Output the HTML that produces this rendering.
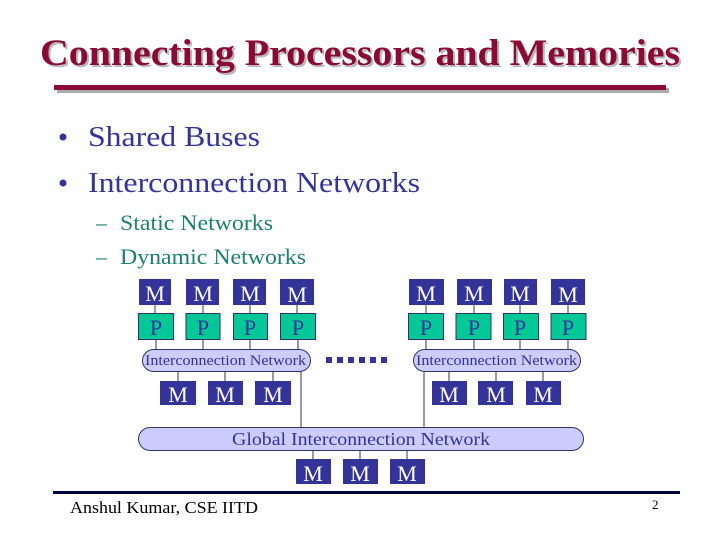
<!DOCTYPE html>
<html><head><meta charset="utf-8"><style>
html,body{margin:0;padding:0;background:#fff}
svg{display:block}
text{font-family:"Liberation Serif",serif}
</style></head><body>
<svg width="720" height="540" viewBox="0 0 720 540" xmlns="http://www.w3.org/2000/svg">
<!-- title -->
<text x="42" y="67" font-size="37" font-weight="bold" fill="#b8b8b8" textLength="640" lengthAdjust="spacingAndGlyphs">Connecting Processors and Memories</text>
<text x="40" y="65" font-size="37" font-weight="bold" fill="#8a0a36" textLength="640" lengthAdjust="spacingAndGlyphs">Connecting Processors and Memories</text>
<rect x="57" y="88" width="612" height="5" fill="#aaa"/>
<rect x="54" y="85" width="612" height="5" fill="#8a0a36"/>
<!-- bullets -->
<g fill="#333399" font-size="29">
<circle cx="63" cy="137" r="3.5"/><text x="88" y="146" textLength="172" lengthAdjust="spacingAndGlyphs">Shared Buses</text>
<circle cx="63" cy="183" r="3.5"/><text x="88" y="192" textLength="332" lengthAdjust="spacingAndGlyphs">Interconnection Networks</text>
</g>
<g fill="#1f7f70" font-size="22">
<text x="96" y="230">–</text><text x="120" y="230" textLength="153" lengthAdjust="spacingAndGlyphs">Static Networks</text>
<text x="96" y="264">–</text><text x="120" y="264" textLength="186" lengthAdjust="spacingAndGlyphs">Dynamic Networks</text>
</g>
<!-- connectors -->
<g stroke="#333366" stroke-width="1">
<line x1="155" y1="305" x2="155" y2="313"/><line x1="203" y1="305" x2="203" y2="313"/><line x1="250" y1="305" x2="250" y2="313"/><line x1="297" y1="305" x2="297" y2="313"/>
<line x1="426" y1="305" x2="426" y2="313"/><line x1="474" y1="305" x2="474" y2="313"/><line x1="520" y1="305" x2="520" y2="313"/><line x1="568" y1="305" x2="568" y2="313"/>
<line x1="156" y1="339" x2="156" y2="349"/><line x1="203" y1="339" x2="203" y2="349"/><line x1="250" y1="339" x2="250" y2="349"/><line x1="298" y1="339" x2="298" y2="349"/>
<line x1="426" y1="339" x2="426" y2="349"/><line x1="474" y1="339" x2="474" y2="349"/><line x1="520" y1="339" x2="520" y2="349"/><line x1="568" y1="339" x2="568" y2="349"/>
<line x1="178" y1="372" x2="178" y2="381"/><line x1="225" y1="372" x2="225" y2="381"/><line x1="273" y1="372" x2="273" y2="381"/>
<line x1="449" y1="372" x2="449" y2="381"/><line x1="496" y1="372" x2="496" y2="381"/><line x1="543" y1="372" x2="543" y2="381"/>
<line x1="301" y1="370" x2="301" y2="428"/><line x1="424" y1="370" x2="424" y2="428"/>
<line x1="313" y1="450" x2="313" y2="459"/><line x1="360" y1="450" x2="360" y2="459"/><line x1="407" y1="450" x2="407" y2="459"/>
</g>
<g fill="#333399">
<rect x="139" y="279" width="32" height="26"/><rect x="186" y="279" width="33" height="26"/><rect x="233" y="279" width="33" height="26"/><rect x="280" y="279" width="34" height="26"/>
<rect x="409" y="279" width="35" height="26"/><rect x="457" y="279" width="35" height="26"/><rect x="504" y="279" width="33" height="26"/><rect x="551" y="279" width="34" height="26"/>
<rect x="160" y="381" width="36" height="24"/><rect x="208" y="381" width="35" height="24"/><rect x="255" y="381" width="36" height="24"/>
<rect x="432" y="381" width="35" height="24"/><rect x="478" y="381" width="35" height="24"/><rect x="526" y="381" width="35" height="24"/>
<rect x="296" y="459" width="35" height="25"/><rect x="343" y="459" width="35" height="25"/><rect x="390" y="459" width="35" height="25"/>
</g>
<g fill="#00c896" stroke="#333366" stroke-width="1">
<rect x="138.5" y="313.5" width="35" height="26"/><rect x="186" y="313.5" width="34" height="26"/><rect x="233.5" y="313.5" width="34" height="26"/><rect x="280.5" y="313.5" width="35" height="26"/>
<rect x="408.5" y="313.5" width="35" height="26"/><rect x="456" y="313.5" width="35" height="26"/><rect x="503.5" y="313.5" width="35" height="26"/><rect x="551" y="313.5" width="35" height="26"/>
</g>
<g fill="#fff" font-size="22" text-anchor="middle">
<text x="155" y="301">M</text><text x="203" y="301">M</text><text x="250" y="301">M</text><text x="297" y="302">M</text>
<text x="426" y="301">M</text><text x="474" y="301">M</text><text x="520" y="301">M</text><text x="568" y="302">M</text>
<text x="178" y="402">M</text><text x="225" y="402">M</text><text x="273" y="402">M</text>
<text x="449" y="402">M</text><text x="496" y="402">M</text><text x="543" y="402">M</text>
<text x="313" y="481">M</text><text x="360" y="481">M</text><text x="407" y="481">M</text>
</g>
<g fill="#333399" font-size="22" text-anchor="middle">
<text x="156" y="335">P</text><text x="203" y="335">P</text><text x="250" y="335">P</text><text x="298" y="335">P</text>
<text x="426" y="335">P</text><text x="474" y="335">P</text><text x="520" y="335">P</text><text x="568" y="335">P</text>
</g>
<g fill="#ccccff" stroke="#333366" stroke-width="1">
<rect x="142.5" y="349.5" width="168" height="22" rx="11"/>
<rect x="413.5" y="349.5" width="167" height="22" rx="11"/>
<rect x="138.5" y="427.5" width="445" height="23" rx="11.5"/>
</g>
<g fill="#333399">
<text x="145" y="365" font-size="14.5" textLength="161" lengthAdjust="spacingAndGlyphs">Interconnection Network</text>
<text x="416" y="365" font-size="14.5" textLength="161" lengthAdjust="spacingAndGlyphs">Interconnection Network</text>
<text x="232" y="445" font-size="18" textLength="258" lengthAdjust="spacingAndGlyphs">Global Interconnection Network</text>
</g>
<g fill="#333399">
<rect x="326" y="357" width="6" height="6"/><rect x="337" y="357" width="6" height="6"/><rect x="348" y="357" width="6" height="6"/><rect x="359" y="357" width="6" height="6"/><rect x="370" y="357" width="6" height="6"/><rect x="381" y="357" width="6" height="6"/>
</g>
<rect x="53" y="491" width="627" height="3" fill="#000040"/>
<text x="70" y="513" font-size="17" fill="#000" textLength="188" lengthAdjust="spacingAndGlyphs">Anshul Kumar, CSE IITD</text>
<text x="652" y="509" font-size="13" fill="#000">2</text>
</svg>
</body></html>
